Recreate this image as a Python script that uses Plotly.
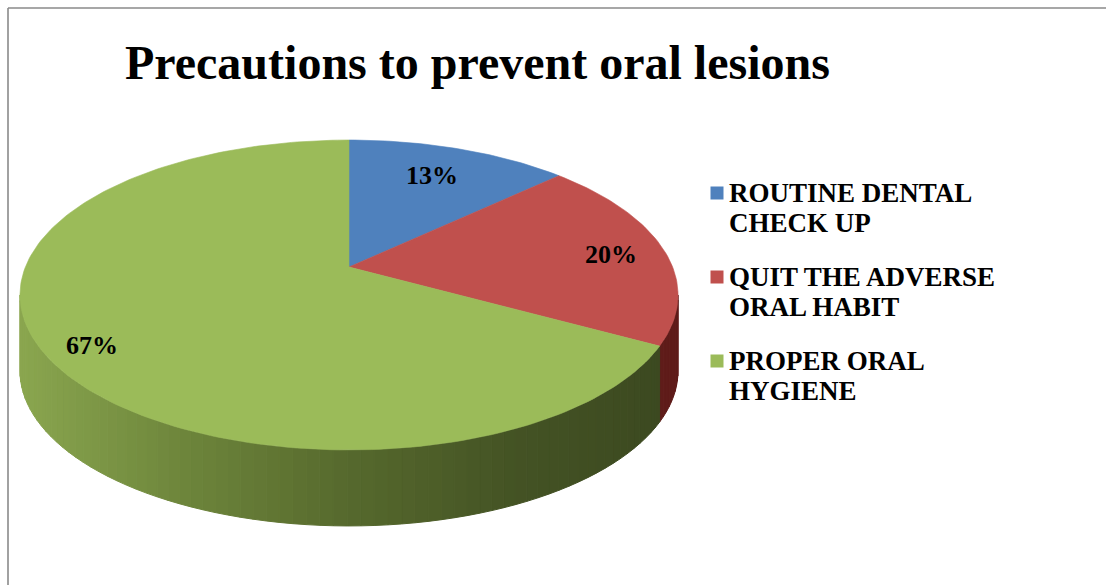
import numpy as np
import plotly.graph_objects as go

# ---- chart data -------------------------------------------------------------
title = "Precautions to prevent oral lesions"
categories = ["ROUTINE DENTAL CHECK UP", "QUIT THE ADVERSE ORAL HABIT", "PROPER ORAL HYGIENE"]
legend_lines = [["ROUTINE DENTAL", "CHECK UP"],
                ["QUIT THE ADVERSE", "ORAL HABIT"],
                ["PROPER ORAL", "HYGIENE"]]
values = [13, 20, 67]

# ---- styling ------------------------------------------------------------------
W, H = 1106, 585
FONT = "Liberation Serif"
top_colors = ["#4f81bd", "#c0504d", "#9bbb59"]
# side-wall shading: colour stops from the lit left edge to the shaded right edge
wall_stops = [
    ["#3e6294", "#2c4a73"],
    ["#8e302d", "#5e1b19"],
    ["#8aa64f", "#6d853b", "#56692d", "#445324", "#3b4820"],
]
label_r = [0.72, 0.83, 0.85]
label_dy = [-3, 3, 8]

# projection of the tilted pie (perspective view)
CX, CY = 349.0, 267.0     # projected centre of the top face
A, B = 323.6, 149.9       # horizontal / vertical semi-axes before perspective
P = 0.1806                # perspective strength
DEPTH = 76.0              # thickness of the pie


def project(r, phi):
    """phi measured clockwise from 12 o'clock, r as a fraction of the radius."""
    u = r * np.sin(phi)
    v = -r * np.cos(phi)
    w = 1.0 - P * v
    return CX + A * u / w, CY + B * v / w


def hex_to_rgb(h):
    h = h.lstrip("#")
    return np.array([int(h[i:i + 2], 16) for i in (0, 2, 4)], dtype=float)


def shade(stops, t):
    t = min(max(t, 0.0), 1.0)
    n = len(stops) - 1
    k = min(int(t * n), n - 1)
    f = t * n - k
    c = hex_to_rgb(stops[k]) * (1 - f) + hex_to_rgb(stops[k + 1]) * f
    return "rgb(%d,%d,%d)" % tuple(np.round(c).astype(int))


total = float(sum(values))
fracs = [v / total for v in values]
bounds = np.concatenate([[0.0], np.cumsum(fracs)]) * 2 * np.pi

fig = go.Figure()

# ---- visible outer wall (front half of the cylinder) ----------------------------
phi_a = np.arccos(-P)
phi_b = 2 * np.pi - phi_a
x_left, _ = project(1.0, phi_b)
x_right, _ = project(1.0, phi_a)
step = np.radians(2.0)
for i in range(len(values)):
    s0, s1 = max(bounds[i], phi_a), min(bounds[i + 1], phi_b)
    if s1 <= s0:
        continue
    n = max(int(np.ceil((s1 - s0) / step)), 1)
    edges = np.linspace(s0, s1, n + 1)
    for a0, a1 in zip(edges[:-1], edges[1:]):
        ph = np.linspace(a0, a1, 6)
        xs, ys = project(1.0, ph)
        px = np.concatenate([xs, xs[::-1], xs[:1]])
        py = np.concatenate([ys, ys[::-1] + DEPTH, ys[:1]])
        t = (np.mean(xs) - x_left) / (x_right - x_left)
        col = shade(wall_stops[i], t)
        fig.add_trace(go.Scatter(
            x=px, y=py, mode="lines", fill="toself", fillcolor=col,
            line=dict(color=col, width=1), hoverinfo="skip", showlegend=False))

# ---- top face of each slice -------------------------------------------------------
for i, name in enumerate(categories):
    ph = np.linspace(bounds[i], bounds[i + 1], max(int(300 * fracs[i]), 4))
    xs, ys = project(1.0, ph)
    px = np.concatenate([[CX], xs, [CX]])
    py = np.concatenate([[CY], ys, [CY]])
    fig.add_trace(go.Scatter(
        x=px, y=py, mode="lines", fill="toself", fillcolor=top_colors[i],
        line=dict(color=top_colors[i], width=0.6), name=name,
        hoverinfo="name", showlegend=False))

# ---- percentage labels ---------------------------------------------------------------
annotations = []
for i, v in enumerate(values):
    mid = 0.5 * (bounds[i] + bounds[i + 1])
    lx, ly = project(label_r[i], mid)
    annotations.append(dict(
        x=lx, y=ly + label_dy[i], xref="x", yref="y", text="%d%%" % round(v / total * 100),
        showarrow=False, font=dict(family=FONT, size=26, color="black", weight="bold")))

# ---- legend --------------------------------------------------------------------------
LEG_X, LEG_Y0, LEG_DY, LINE_DY = 717, 193, 84, 30
fig.add_trace(go.Scatter(
    x=[LEG_X] * len(categories), y=[LEG_Y0 + k * LEG_DY for k in range(len(categories))],
    mode="markers", marker=dict(symbol="square", size=13, color=top_colors),
    hoverinfo="skip", showlegend=False))
for k, lines in enumerate(legend_lines):
    for j, line in enumerate(lines):
        annotations.append(dict(
            x=LEG_X + 10, y=LEG_Y0 + k * LEG_DY + j * LINE_DY, xref="x", yref="y",
            xanchor="left", yanchor="middle", text=line, showarrow=False,
            font=dict(family=FONT, size=27, color="black", weight="bold")))

# ---- title -----------------------------------------------------------------------
annotations.append(dict(
    x=477, y=62, xref="x", yref="y", text=title, showarrow=False,
    xanchor="center", yanchor="middle",
    font=dict(family=FONT, size=48, color="black", weight="bold")))

# chart-area frame: only the top and left edges fall inside the page
frame = dict(color="#8a8a8a", width=1.6)
fig.update_layout(
    width=W, height=H, autosize=False,
    margin=dict(l=0, r=0, t=0, b=0),
    paper_bgcolor="white", plot_bgcolor="white",
    xaxis=dict(range=[0, W], visible=False, fixedrange=True),
    yaxis=dict(range=[H, 0], visible=False, fixedrange=True),
    annotations=annotations,
    shapes=[
        dict(type="line", xref="x", yref="y", x0=8, y0=8, x1=W, y1=8, line=frame, layer="below"),
        dict(type="line", xref="x", yref="y", x0=8, y0=8, x1=8, y1=H, line=frame, layer="below"),
    ],
    showlegend=False,
)

fig.write_html("out.html")
